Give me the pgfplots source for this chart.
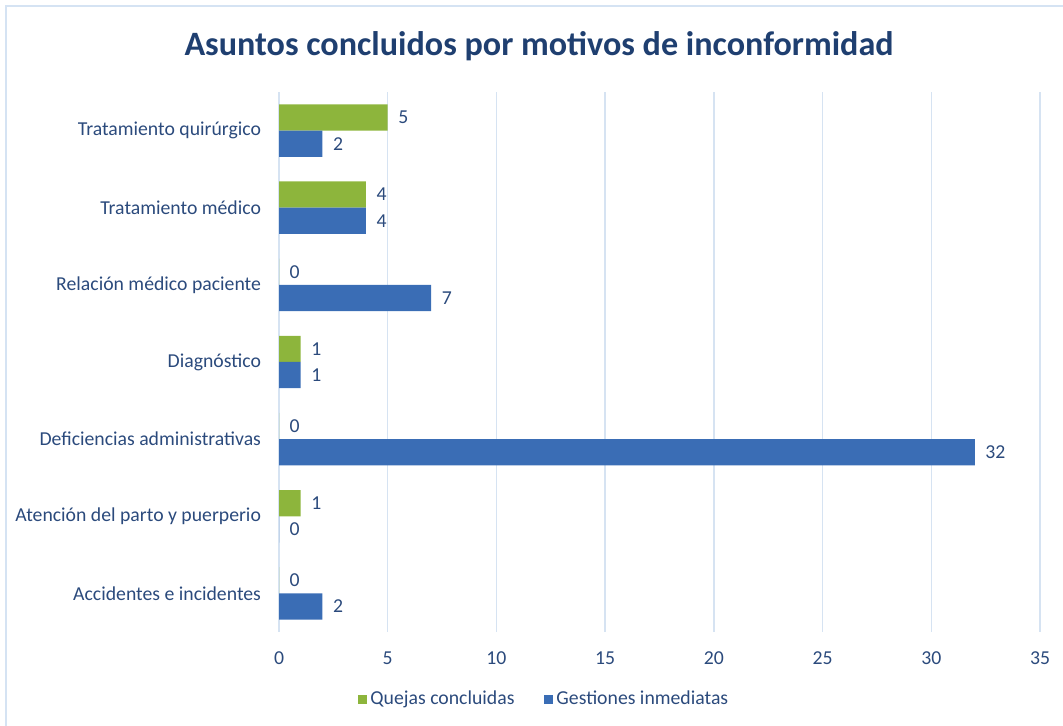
\documentclass[border=0pt]{standalone}
\usepackage{pgfplots}
\pgfplotsset{compat=1.18}
\usepackage{fontspec}
\setmainfont{Carlito}
\definecolor{txt}{HTML}{2B4A7C}
\definecolor{ttl}{HTML}{1F3F70}
\definecolor{gridc}{HTML}{D6E3F2}
\definecolor{frm}{HTML}{D5E3F3}
\definecolor{gfill}{HTML}{8DB53C}
\definecolor{bfill}{HTML}{3A6DB5}
\begin{document}
\begin{tikzpicture}[x=0.75pt,y=0.75pt]
\useasboundingbox (0,0) rectangle (1063,725);
\begin{scope}
\clip (0,0) rectangle (1063,725);
\draw[frm,line width=1.5pt] (6,-10) -- (6,718.5) -- (1080,718.5);
\end{scope}
\node[font=\fontsize{25.6}{30}\selectfont\bfseries,text=ttl] at (539,679) {Asuntos concluidos por motivos de inconformidad};
\begin{axis}[
  at={(209.25pt,69.75pt)}, anchor=south west,
  scale only axis, width=570.75pt, height=405pt,
  xmin=0, xmax=35, ymin=-0.5, ymax=6.5,
  xtick={0,5,...,35},
  ytick={0,...,6},
  yticklabels={Accidentes e incidentes,Atención del parto y puerperio,Deficiencias administrativas,Diagnóstico,Relación médico paciente,Tratamiento médico,Tratamiento quirúrgico},
  axis line style={draw=none},
  major tick length=0pt,
  xmajorgrids, grid style={gridc,line width=1.1pt},
  tick label style={font=\fontsize{14.8}{17}\selectfont,text=txt},
  /pgf/number format/assume math mode=true,
  xticklabel style={yshift=-11pt},
  yticklabel style={xshift=-10pt},
  xbar, bar width=0.34,
  nodes near coords,
  every node near coord/.append style={font=\fontsize{14.8}{17}\selectfont,text=txt,anchor=west,xshift=4.5pt},
  clip=false,
]
\addplot[draw=none, fill=gfill, bar shift=0.17] coordinates {(0,0) (1,1) (0,2) (1,3) (0,4) (4,5) (5,6)};
\addplot[draw=none, fill=bfill, bar shift=-0.17] coordinates {(2,0) (0,1) (32,2) (1,3) (7,4) (4,5) (2,6)};
\end{axis}
\node[anchor=center,font=\fontsize{14.8}{17}\selectfont,text=txt] at (543,26) {%
\textcolor{gfill}{\rule{7pt}{7pt}}\,Quejas concluidas\hspace{22pt}\textcolor{bfill}{\rule{7pt}{7pt}}\,Gestiones inmediatas};
\end{tikzpicture}
\end{document}
